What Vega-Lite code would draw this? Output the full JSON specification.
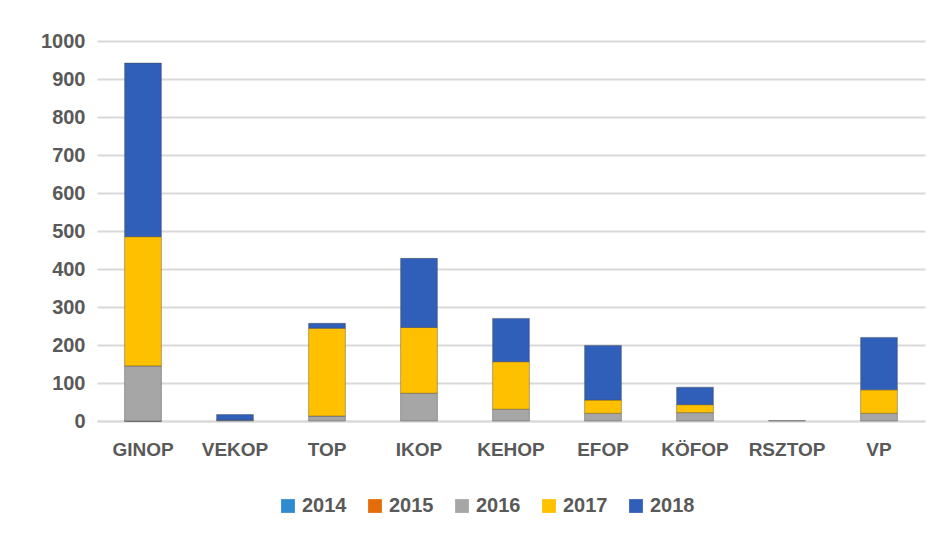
{
  "$schema": "https://vega.github.io/schema/vega-lite/v6.json",
  "width": 828,
  "height": 380,
  "autosize": "none",
  "padding": {"left": 97, "top": 41, "right": 18, "bottom": 117},
  "background": "white",
  "data": {
    "values": [
      {"program": "GINOP", "year": "2014", "value": 0},
      {"program": "GINOP", "year": "2015", "value": 0},
      {"program": "GINOP", "year": "2016", "value": 145},
      {"program": "GINOP", "year": "2017", "value": 340},
      {"program": "GINOP", "year": "2018", "value": 457},
      {"program": "VEKOP", "year": "2016", "value": 2},
      {"program": "VEKOP", "year": "2018", "value": 15},
      {"program": "TOP", "year": "2016", "value": 13},
      {"program": "TOP", "year": "2017", "value": 231},
      {"program": "TOP", "year": "2018", "value": 13},
      {"program": "IKOP", "year": "2016", "value": 73},
      {"program": "IKOP", "year": "2017", "value": 173},
      {"program": "IKOP", "year": "2018", "value": 182},
      {"program": "KEHOP", "year": "2016", "value": 31},
      {"program": "KEHOP", "year": "2017", "value": 125},
      {"program": "KEHOP", "year": "2018", "value": 114},
      {"program": "EFOP", "year": "2016", "value": 20},
      {"program": "EFOP", "year": "2017", "value": 35},
      {"program": "EFOP", "year": "2018", "value": 144},
      {"program": "KÖFOP", "year": "2016", "value": 22},
      {"program": "KÖFOP", "year": "2017", "value": 21},
      {"program": "KÖFOP", "year": "2018", "value": 46},
      {"program": "RSZTOP", "year": "2016", "value": 1},
      {"program": "VP", "year": "2016", "value": 20},
      {"program": "VP", "year": "2017", "value": 62},
      {"program": "VP", "year": "2018", "value": 138}
    ]
  },
  "mark": {"type": "bar", "stroke": "#404040", "strokeWidth": 0.8, "strokeOpacity": 0.5},
  "encoding": {
    "x": {
      "field": "program", "type": "nominal",
      "sort": ["GINOP", "VEKOP", "TOP", "IKOP", "KEHOP", "EFOP", "KÖFOP", "RSZTOP", "VP"],
      "scale": {"paddingInner": 0.6, "paddingOuter": 0.3},
      "axis": {"title": null, "labelAngle": 0, "labelPadding": 19, "ticks": false, "domainColor": "#d9d9d9", "domainWidth": 2, "labelFontSize": 19, "labelFontWeight": "bold", "labelColor": "#595959", "labelFont": "Liberation Sans"}
    },
    "y": {
      "field": "value", "type": "quantitative", "aggregate": "sum", "stack": "zero",
      "scale": {"domain": [0, 1000]},
      "axis": {"title": null, "values": [0,100,200,300,400,500,600,700,800,900,1000], "format": "d", "domain": false, "ticks": false, "labelPadding": 12, "gridColor": "#d9d9d9", "gridWidth": 2, "labelFontSize": 20, "labelFontWeight": "bold", "labelColor": "#595959", "labelFont": "Liberation Sans"}
    },
    "color": {
      "field": "year", "type": "nominal",
      "scale": {"domain": ["2014", "2015", "2016", "2017", "2018"], "range": ["#2E8BCF", "#E46C0A", "#A6A6A6", "#FFC000", "#2F5FB8"]},
      "legend": {"title": null, "orient": "none", "direction": "horizontal", "legendX": 181, "legendY": 455, "symbolType": "square", "symbolSize": 190, "symbolStrokeWidth": 0, "columnPadding": 18, "labelFontSize": 20, "labelFontWeight": "bold", "labelColor": "#595959", "labelFont": "Liberation Sans", "labelOffset": 4}
    },
    "order": {"field": "year", "sort": "ascending"}
  },
  "config": {"view": {"stroke": null}}
}
